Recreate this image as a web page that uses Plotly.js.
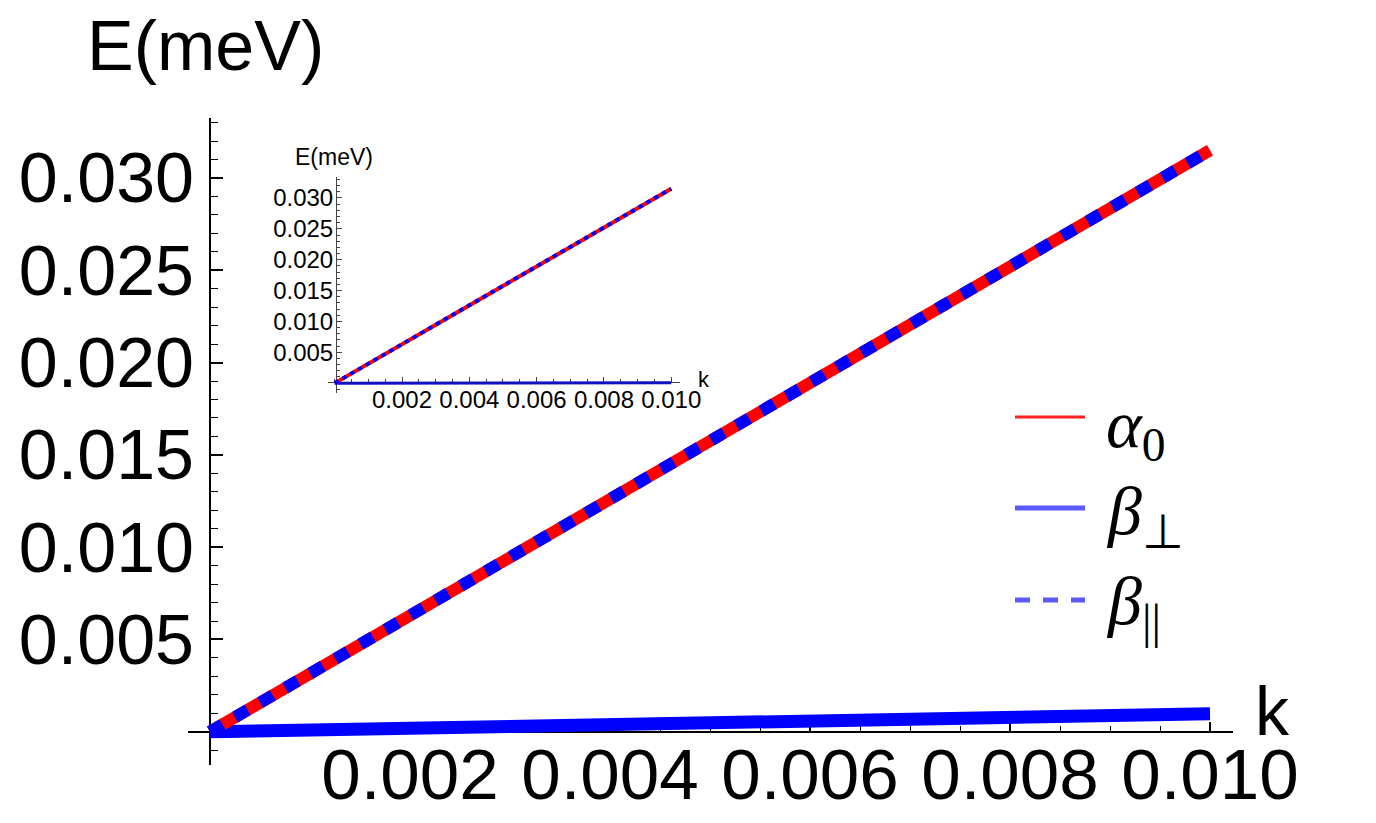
<!DOCTYPE html>
<html>
<head>
<meta charset="utf-8">
<script src="https://cdn.plot.ly/plotly-3.0.1.min.js"></script>
<style>
  html, body {margin: 0; padding: 0; background: #ffffff;}
  #plot {width: 1376px; height: 823px;}
</style>
</head>
<body>
<div id="plot"></div>
<script>
/************************** DATA *********************************/
var kValues = [0, 0.002, 0.004, 0.006, 0.008, 0.010];
var alphaZero = [0, 0.0063, 0.0126, 0.0189, 0.0252, 0.0315];
var betaPerp = [0, 0.0002, 0.0004, 0.0006, 0.0008, 0.00097];
var betaPar = [0, 0.0063, 0.0126, 0.0189, 0.0252, 0.0315];
//the inset's beta_perp sits flat on the k axis
var insetBetaPerp = [0, 0.00001, 0.00002, 0.00003, 0.00004, 0.00005];

var seriesNames = ['<i>α</i><sub>0</sub>', '<i>β</i><sub>⊥</sub>', '<i>β</i><sub>||</sub>'];
var xTickVals = [0.002, 0.004, 0.006, 0.008, 0.010];
var xTickText = ['0.002', '0.004', '0.006', '0.008', '0.010'];
var yTickVals = [0.005, 0.010, 0.015, 0.020, 0.025, 0.030];
var yTickText = ['0.005', '0.010', '0.015', '0.020', '0.025', '0.030'];

var W = 1376, H = 823;

//pixel -> paper helpers (margins are zero, so paper == page)
function px(x) { return x / W; }
function py(y) { return 1 - y / H; }

/************************** AXES *********************************/
function makeX(domain, pos, range, fontSize, len, standoff, lineW, lineCol) {
  return {
    domain: domain, anchor: 'free', position: pos, range: range,
    showgrid: false, zeroline: false, showline: true,
    linecolor: lineCol, linewidth: lineW, layer: 'below traces',
    tickmode: 'array', tickvals: xTickVals, ticktext: xTickText,
    ticks: 'inside', ticklen: len, tickwidth: lineW > 1.5 ? 2 : 1, tickcolor: lineCol,
    ticklabelstandoff: standoff,
    minor: {tickmode: 'linear', tick0: 0, dtick: 0.0005, ticks: 'inside',
            ticklen: Math.round(len * 0.6), tickcolor: lineCol, tickwidth: 1},
    tickfont: {family: 'Liberation Sans, Arial', size: fontSize, color: '#000'},
    fixedrange: true
  };
}

function makeY(domain, pos, range, fontSize, len, standoff, lineW, lineCol) {
  return {
    domain: domain, anchor: 'free', position: pos, range: range,
    showgrid: false, zeroline: false, showline: true,
    linecolor: lineCol, linewidth: lineW, layer: 'below traces',
    tickmode: 'array', tickvals: yTickVals, ticktext: yTickText,
    ticks: 'inside', ticklen: len, tickwidth: lineW > 1.5 ? 2 : 1, tickcolor: lineCol,
    ticklabelstandoff: standoff,
    minor: {tickmode: 'linear', tick0: 0, dtick: 0.001, ticks: 'inside',
            ticklen: Math.round(len * 0.6), tickcolor: lineCol, tickwidth: 1},
    tickfont: {family: 'Liberation Sans, Arial', size: fontSize, color: '#000'},
    fixedrange: true
  };
}

/************************** TRACES *******************************/
function makeTraces(xa, ya, wide, perp) {
  var lw = wide ? 12 : 4;
  var perpW = wide ? 13 : 3;
  var dash = wide ? '14.5px,14.5px' : '4.5px,4.5px';
  return [
    {x: kValues, y: perp, xaxis: xa, yaxis: ya, mode: 'lines',
     line: {color: wide ? '#0000ff' : '#1010c0', width: perpW}, showlegend: false, hoverinfo: 'skip'},
    {x: kValues, y: alphaZero, xaxis: xa, yaxis: ya, mode: 'lines',
     line: {color: '#ff0000', width: lw}, showlegend: false, hoverinfo: 'skip'},
    {x: kValues, y: betaPar, xaxis: xa, yaxis: ya, mode: 'lines',
     line: {color: '#0000ff', width: lw, dash: dash}, showlegend: false, hoverinfo: 'skip'}
  ];
}

var data = makeTraces('x', 'y', true, betaPerp).concat(makeTraces('x2', 'y2', false, insetBetaPerp));

/************************** LEGEND *******************************/
//hand drawn legend: sample line + label for each series
var legendLines = [
  {y: 417, ty: 428, color: '#ff2020', width: 3, dash: 'solid'},
  {y: 508, ty: 515, color: '#5a5aff', width: 5, dash: 'solid'},
  {y: 600, ty: 605, color: '#5a5aff', width: 5, dash: '15px,13px'}
];
var shapes = [];
var annotations = [];
for (var i = 0; i < legendLines.length; i++) {
  shapes.push({
    type: 'line', xref: 'paper', yref: 'paper',
    x0: px(1015), x1: px(1085), y0: py(legendLines[i].y), y1: py(legendLines[i].y),
    line: {color: legendLines[i].color, width: legendLines[i].width, dash: legendLines[i].dash}
  });
  annotations.push({
    xref: 'paper', yref: 'paper', x: px(1104), y: py(legendLines[i].ty),
    xanchor: 'left', yanchor: 'middle', showarrow: false, text: seriesNames[i],
    font: {family: 'Liberation Serif, Times New Roman', size: 68, color: '#000'}
  });
}

//axis titles
annotations.push({xref: 'paper', yref: 'paper', x: px(206), y: py(46), xanchor: 'center', yanchor: 'middle',
  showarrow: false, text: 'E(meV)', font: {family: 'Liberation Sans, Arial', size: 70, color: '#000'}});
annotations.push({xref: 'paper', yref: 'paper', x: px(1272), y: py(711), xanchor: 'center', yanchor: 'middle',
  showarrow: false, text: 'k', font: {family: 'Liberation Sans, Arial', size: 68, color: '#000'}});
annotations.push({xref: 'paper', yref: 'paper', x: px(334), y: py(157), xanchor: 'center', yanchor: 'middle',
  showarrow: false, text: 'E(meV)', font: {family: 'Liberation Sans, Arial', size: 23, color: '#000'}});
annotations.push({xref: 'paper', yref: 'paper', x: px(704), y: py(380), xanchor: 'center', yanchor: 'middle',
  showarrow: false, text: 'k', font: {family: 'Liberation Sans, Arial', size: 22, color: '#000'}});

/************************** LAYOUT *******************************/
var layout = {
  width: W, height: H,
  margin: {l: 0, r: 0, t: 0, b: 0},
  paper_bgcolor: '#ffffff', plot_bgcolor: 'rgba(0,0,0,0)',
  showlegend: false,
  //main plot
  xaxis: makeX([px(188), px(1233)], py(732), [-0.00022, 0.01023], 71, 9, -19, 2, '#000000'),
  yaxis: makeY([py(765), py(118)], px(210), [-0.0018, 0.03325], 70, 12, 1, 2, '#000000'),
  //inset
  xaxis2: makeX([px(328), px(680)], py(382), [-0.0002, 0.01026], 24, 5, -4, 1, '#444444'),
  yaxis2: makeY([py(393), py(177)], px(336), [-0.0016, 0.0334], 24, 5, -2, 1, '#444444'),
  shapes: shapes,
  annotations: annotations
};

Plotly.newPlot('plot', data, layout, {displayModeBar: false, staticPlot: true});
</script>
</body>
</html>
